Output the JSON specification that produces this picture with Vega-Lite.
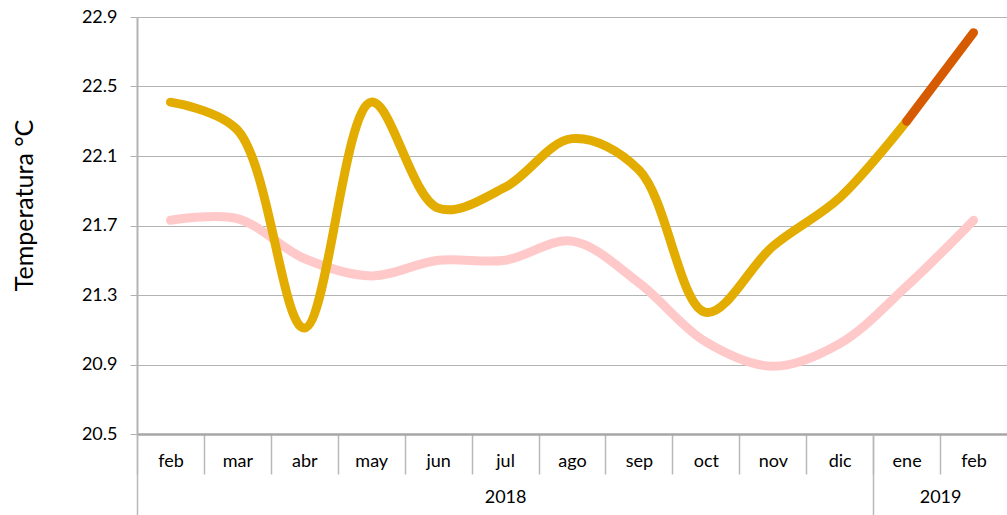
{
  "$schema": "https://vega.github.io/schema/vega-lite/v6.json",
  "width": 870,
  "height": 417,
  "autosize": {"type": "none"},
  "padding": {"left": 137, "top": 17, "right": 0, "bottom": 81},
  "background": "white",
  "config": {"view": {"stroke": null}, "font": "Lato"},
  "datasets": {
    "pink": [
      {"i": 1, "month": "feb", "year": 2018, "v": 21.73},
      {"i": 2, "month": "mar", "year": 2018, "v": 21.74},
      {"i": 3, "month": "abr", "year": 2018, "v": 21.51},
      {"i": 4, "month": "may", "year": 2018, "v": 21.41},
      {"i": 5, "month": "jun", "year": 2018, "v": 21.5},
      {"i": 6, "month": "jul", "year": 2018, "v": 21.5},
      {"i": 7, "month": "ago", "year": 2018, "v": 21.61},
      {"i": 8, "month": "sep", "year": 2018, "v": 21.37},
      {"i": 9, "month": "oct", "year": 2018, "v": 21.03},
      {"i": 10, "month": "nov", "year": 2018, "v": 20.89},
      {"i": 11, "month": "dic", "year": 2018, "v": 21.02},
      {"i": 12, "month": "ene", "year": 2019, "v": 21.35},
      {"i": 13, "month": "feb", "year": 2019, "v": 21.73}
    ],
    "gold": [
      {"i": 1, "month": "feb", "year": 2018, "v": 22.41},
      {"i": 2, "month": "mar", "year": 2018, "v": 22.25},
      {"i": 3, "month": "abr", "year": 2018, "v": 21.11},
      {"i": 4, "month": "may", "year": 2018, "v": 22.41},
      {"i": 5, "month": "jun", "year": 2018, "v": 21.8},
      {"i": 6, "month": "jul", "year": 2018, "v": 21.92},
      {"i": 7, "month": "ago", "year": 2018, "v": 22.2},
      {"i": 8, "month": "sep", "year": 2018, "v": 22.02},
      {"i": 9, "month": "oct", "year": 2018, "v": 21.2},
      {"i": 10, "month": "nov", "year": 2018, "v": 21.58},
      {"i": 11, "month": "dic", "year": 2018, "v": 21.86},
      {"i": 12, "month": "ene", "year": 2019, "v": 22.3}
    ],
    "orange": [
      {"i": 12, "month": "ene", "year": 2019, "v": 22.3},
      {"i": 13, "month": "feb", "year": 2019, "v": 22.81}
    ]
  },
  "encoding": {
    "y": {
      "field": "v",
      "type": "quantitative",
      "scale": {"domain": [20.5, 22.9], "nice": false, "zero": false},
      "axis": {
        "values": [20.5, 20.9, 21.3, 21.7, 22.1, 22.5, 22.9],
        "format": ".1f",
        "grid": true,
        "gridColor": "#b3b3b3",
        "gridWidth": 1,
        "tickSize": 7,
        "tickColor": "#b3b3b3",
        "tickWidth": 1,
        "labelPadding": 13,
        "labelFontSize": 18,
        "labelColor": "#000000",
        "labelFont": "Lato",
        "domainColor": "#b3b3b3",
        "domainWidth": 2,
        "title": "Temperatura °C",
        "titleFontSize": 25,
        "titleFontWeight": "normal",
        "titleColor": "#000000",
        "titleFont": "Lato",
        "titleX": -100,
        "titleY": 188
      }
    }
  },
  "layer": [
    {
      "data": {"name": "pink"},
      "mark": {"type": "line", "interpolate": "catmull-rom", "color": "#FFC9C9", "strokeWidth": 9, "strokeCap": "round"},
      "encoding": {
        "x": {
          "field": "i",
          "type": "quantitative",
          "scale": {"domain": [0.5, 13.5], "nice": false, "zero": false},
          "axis": {
            "orient": "bottom",
            "title": null,
            "grid": false,
            "values": [0.5, 1.5, 2.5, 3.5, 4.5, 5.5, 6.5, 7.5, 8.5, 9.5, 10.5, 11.5, 12.5],
            "labelExpr": "['feb','mar','abr','may','jun','jul','ago','sep','oct','nov','dic','ene','feb'][round(datum.value - 0.5)]",
            "labelOffset": 33.46,
            "labelFlush": false,
            "labelOverlap": false,
            "labelBound": false,
            "labelBaseline": "middle",
            "labelPadding": -13,
            "labelFontSize": 18,
            "labelColor": "#000000",
            "labelFont": "Lato",
            "tickSize": 40,
            "tickColor": "#b8b8b8",
            "tickWidth": 1.5,
            "domainColor": "#a6a6a6",
            "domainWidth": 2.5
          }
        }
      }
    },
    {
      "data": {"name": "gold"},
      "mark": {"type": "line", "interpolate": "catmull-rom", "color": "#E3AC00", "strokeWidth": 9, "strokeCap": "round"},
      "encoding": {
        "x": {
          "field": "i",
          "type": "quantitative",
          "scale": {"domain": [0.5, 13.5], "nice": false, "zero": false},
          "axis": {
            "orient": "bottom",
            "title": null,
            "grid": false,
            "domain": false,
            "ticks": false,
            "values": [6, 12.5],
            "labelExpr": "datum.value == 6 ? '2018' : '2019'",
            "labelFlush": false,
            "labelOverlap": false,
            "labelBound": false,
            "labelBaseline": "middle",
            "labelPadding": 63,
            "labelFontSize": 18,
            "labelColor": "#000000",
            "labelFont": "Lato"
          }
        }
      }
    },
    {
      "data": {"name": "orange"},
      "mark": {"type": "line", "interpolate": "catmull-rom", "color": "#D55A00", "strokeWidth": 9, "strokeCap": "round"},
      "encoding": {
        "x": {
          "field": "i",
          "type": "quantitative",
          "scale": {"domain": [0.5, 13.5], "nice": false, "zero": false},
          "axis": {
            "orient": "bottom",
            "title": null,
            "grid": false,
            "domain": false,
            "labels": false,
            "values": [0.5, 11.5],
            "tickSize": 81,
            "tickColor": "#b8b8b8",
            "tickWidth": 1.5
          }
        }
      }
    }
  ],
  "resolve": {"axis": {"x": "independent"}}
}
